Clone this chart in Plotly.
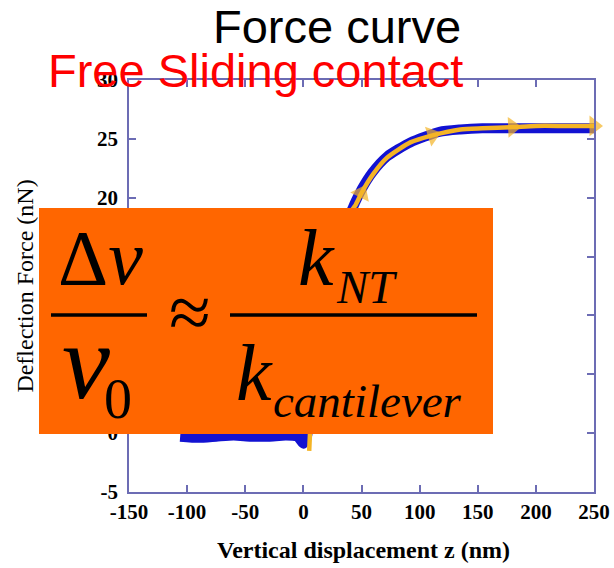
import plotly.graph_objects as go

# Retract branch (blue): deflection force vs. vertical displacement
retract_z = [-106, -90, -75, -60, -45, -30, -15, -5, 0, 3, 6, 10, 15, 20, 25, 30, 35, 40,
             45, 50, 59, 72, 92, 117, 135, 154, 175, 197, 220, 250]
retract_f = [-0.3, -0.4, -0.3, -0.2, -0.3, -0.3, -0.2, -0.3, -0.9, -0.3, 1.5, 4.5, 8.5, 12.0,
             14.5, 16.3, 17.6, 18.6, 19.7, 20.7, 22.1, 23.5, 24.7, 25.6, 25.8, 25.9, 25.9,
             25.9, 25.9, 25.9]

# Approach branch (yellow) with direction arrows
approach_z = [5, 6, 8, 12, 17, 22, 28, 34, 40, 45, 50, 60, 72, 92, 111, 135, 154, 180, 200,
              225, 250]
approach_f = [-1.5, 0.5, 3.0, 6.5, 10.0, 13.0, 15.5, 17.5, 18.7, 19.4, 20.4, 22.0, 23.4,
              24.7, 25.3, 25.8, 25.9, 26.0, 26.1, 26.1, 26.1]
approach_arrow = [0, 0, 0, 0, 0, 0, 0, 0, 0, 0, 1, 0, 0, 0, 1, 0, 0, 1, 0, 0, 1]

x_ticks = [-150, -100, -50, 0, 50, 100, 150, 200, 250]
x_tick_text = ["-150", "-100", "-50", "0", "50", "100", "150", "200", "250"]
y_ticks = [-5, 0, 5, 10, 15, 20, 25, 30]
y_tick_text = ["-5", "0", "5", "10", "15", "20", "25", "30"]

title_text = "Force curve"
subtitle_text = "Free Sliding contact"
x_title = "Vertical displacement z (nm)"
y_title = "Deflection Force (nN)"

W, H = 614, 568
L, R, T, B = 129, 20, 80, 76


def px(x):
    return (x - L) / (W - L - R)


def py(y):
    return (H - B - y) / (H - T - B)


AXIS_COLOR = "#6c6cb4"
SERIF = "Liberation Serif, Times New Roman, serif"
SANS = "Liberation Sans, Arial, sans-serif"
YELLOW = "#f4b425"

fig = go.Figure()

fig.add_trace(go.Scatter(
    x=retract_z, y=retract_f, mode="lines",
    line=dict(color="#1212d2", width=10, shape="spline", smoothing=0.6),
    showlegend=False,
))

fig.add_trace(go.Scatter(
    x=approach_z, y=approach_f, mode="lines+markers",
    line=dict(color=YELLOW, width=4.5, shape="spline", smoothing=0.6),
    marker=dict(symbol="triangle-up", angleref="previous",
                size=[18 if a else 0 for a in approach_arrow],
                color=YELLOW, line=dict(width=0)),
    cliponaxis=False,
    showlegend=False,
))

axis_common = dict(
    showline=True, linecolor=AXIS_COLOR, linewidth=1.5, mirror="ticks",
    ticks="inside", ticklen=7, tickwidth=1.5, tickcolor=AXIS_COLOR,
    showgrid=False, zeroline=False,
    tickfont=dict(family=SERIF, size=21, color="black", weight="bold"),
)

fig.update_xaxes(range=[-150, 250], tickmode="array", tickvals=x_ticks,
                 ticktext=x_tick_text, **axis_common)
fig.update_yaxes(range=[-5, 30], tickmode="array", tickvals=y_ticks,
                 ticktext=y_tick_text, ticklabelstandoff=5,
                 title=dict(text=y_title, standoff=57,
                            font=dict(family=SERIF, size=24, color="black")),
                 **axis_common)

shapes = [
    # formula panel
    dict(type="rect", xref="paper", yref="paper", layer="above",
         x0=px(39), x1=px(493), y0=py(434), y1=py(208),
         fillcolor="#ff6600", line=dict(width=0)),
    # fraction bars
    dict(type="line", xref="paper", yref="paper", layer="above",
         x0=px(51), x1=px(147), y0=py(315), y1=py(315),
         line=dict(color="black", width=3.5)),
    dict(type="line", xref="paper", yref="paper", layer="above",
         x0=px(230), x1=px(477), y0=py(315), y1=py(315),
         line=dict(color="black", width=3.5)),
]


def ann(text, x, y, size, family=SERIF, color="black", xanchor="center",
        weight="normal", angle=0):
    return dict(text=text, xref="paper", yref="paper", x=px(x), y=py(y),
                xanchor=xanchor, yanchor="middle", showarrow=False,
                textangle=angle,
                font=dict(family=family, size=size, color=color, weight=weight))


annotations = [
    ann(title_text, 337, 26, 47, family=SANS),
    ann(subtitle_text, 255, 70, 47, family=SANS, color="#ff0000"),
    ann(x_title, 363, 550, 24, weight="bold"),
    # formula: Δν/ν0 ≈ k_NT / k_cantilever
    ann("Δ<i>ν</i>", 100, 257, 78),
    ann("≈", 190, 312, 76),
    ann("<i>k</i>", 296, 258, 80, xanchor="left"),
    ann("<i>NT</i>", 334, 287, 47, xanchor="left"),
    ann("<i>ν</i>", 60, 362, 108, xanchor="left"),
    ann("0", 102, 399, 56, xanchor="left"),
    ann("<i>k</i>", 234, 373, 80, xanchor="left"),
    ann("<i>cantilever</i>", 271, 401, 47, xanchor="left"),
]

fig.update_layout(
    width=W, height=H,
    margin=dict(l=L, r=R, t=T, b=B, autoexpand=False),
    paper_bgcolor="white", plot_bgcolor="white",
    shapes=shapes, annotations=annotations,
)

fig.write_html("out.html")
